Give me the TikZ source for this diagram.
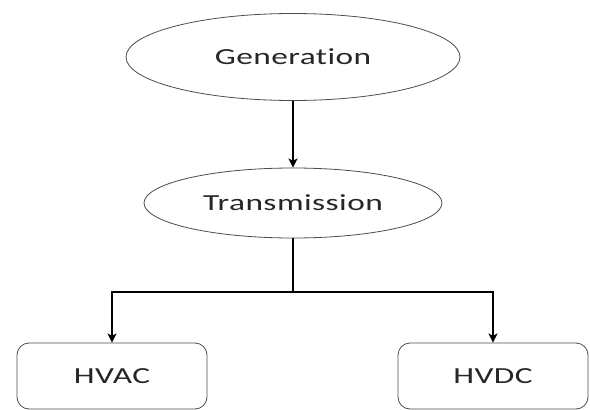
\documentclass[tikz,border=0pt]{standalone}
\usepackage{fontspec}
\setmainfont[FakeStretch=1.45, LetterSpace=2, Ligatures=NoCommon]{Carlito}
\usepackage{tikz}
\usetikzlibrary{shapes.geometric, arrows, arrows.meta}
\tikzstyle{ovalnode} = [ellipse, draw=black!70, line width=0.8pt, inner sep=0pt,
                        text=black!85, font=\fontsize{23}{27}\selectfont]
\tikzstyle{boxnode} = [rectangle, rounded corners=12pt, minimum width=190pt, minimum height=66pt,
                       draw=black!70, line width=0.8pt, text=black!85, font=\fontsize{23}{27}\selectfont]
\tikzstyle{arrow} = [-{Stealth[length=9pt, width=9pt, inset=2pt]}, line width=1.8pt]
\tikzstyle{wire} = [line width=1.8pt]

\begin{document}
\begin{tikzpicture}[x=1pt, y=1pt, node distance=146pt]
  \useasboundingbox (0,0) rectangle (590,-410);
  \node (gen) [ovalnode, minimum width=334pt, minimum height=87pt] at (293,-57) {Generation};
  \node (trans) [ovalnode, minimum width=298pt, minimum height=70pt, below of=gen] {Transmission};
  \node (hvac) [boxnode] at (112,-376) {HVAC};
  \node (hvdc) [boxnode] at (493,-376) {HVDC};
  \coordinate (split) at (293,-292);

  \draw [arrow] (gen) -- (trans);
  \draw [wire] (trans) -- (split);
  \draw [arrow] (split) -| (hvac);
  \draw [arrow] (split) -| (hvdc);
\end{tikzpicture}
\end{document}
